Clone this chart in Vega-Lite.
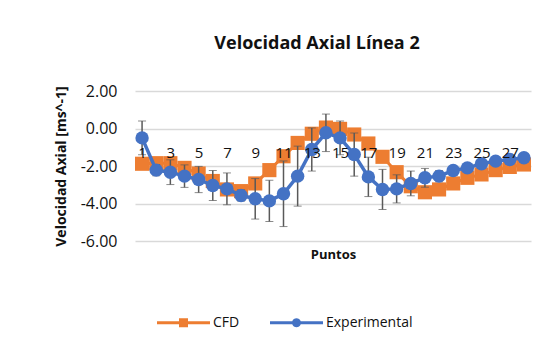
{
  "$schema": "https://vega.github.io/schema/vega-lite/v6.json",
  "width": 396,
  "height": 150,
  "autosize": {"type": "none"},
  "padding": {"left": 135, "top": 91, "right": 22, "bottom": 111},
  "background": "white",
  "config": {
    "font": "Open Sans",
    "locale": {"number": {"decimal": ".", "thousands": ",", "grouping": [3], "currency": ["$", ""], "minus": "-"}},
    "view": {"stroke": null}
  },
  "title": {
    "text": "Velocidad Axial Línea 2",
    "fontSize": 18,
    "fontWeight": "bold",
    "color": "#111111",
    "anchor": "middle",
    "dx": -16,
    "offset": 30
  },
  "data": {
    "values": [
      {"p": 1, "serie": "CFD", "v": -1.88},
      {"p": 2, "serie": "CFD", "v": -1.85},
      {"p": 3, "serie": "CFD", "v": -1.85},
      {"p": 4, "serie": "CFD", "v": -2.1},
      {"p": 5, "serie": "CFD", "v": -2.4},
      {"p": 6, "serie": "CFD", "v": -2.8},
      {"p": 7, "serie": "CFD", "v": -3.25},
      {"p": 8, "serie": "CFD", "v": -3.34},
      {"p": 9, "serie": "CFD", "v": -2.93},
      {"p": 10, "serie": "CFD", "v": -2.22},
      {"p": 11, "serie": "CFD", "v": -1.48},
      {"p": 12, "serie": "CFD", "v": -0.77},
      {"p": 13, "serie": "CFD", "v": -0.28},
      {"p": 14, "serie": "CFD", "v": 0.05},
      {"p": 15, "serie": "CFD", "v": -0.02},
      {"p": 16, "serie": "CFD", "v": -0.32},
      {"p": 17, "serie": "CFD", "v": -0.8},
      {"p": 18, "serie": "CFD", "v": -1.51},
      {"p": 19, "serie": "CFD", "v": -2.33},
      {"p": 20, "serie": "CFD", "v": -3.08},
      {"p": 21, "serie": "CFD", "v": -3.4},
      {"p": 22, "serie": "CFD", "v": -3.25},
      {"p": 23, "serie": "CFD", "v": -2.93},
      {"p": 24, "serie": "CFD", "v": -2.63},
      {"p": 25, "serie": "CFD", "v": -2.45},
      {"p": 26, "serie": "CFD", "v": -2.22},
      {"p": 27, "serie": "CFD", "v": -2.05},
      {"p": 28, "serie": "CFD", "v": -1.92},
      {"p": 1, "serie": "Experimental", "v": -0.5, "err": 0.9},
      {"p": 2, "serie": "Experimental", "v": -2.22, "err": 0.3},
      {"p": 3, "serie": "Experimental", "v": -2.33, "err": 0.66},
      {"p": 4, "serie": "Experimental", "v": -2.54, "err": 0.6},
      {"p": 5, "serie": "Experimental", "v": -2.72, "err": 0.7},
      {"p": 6, "serie": "Experimental", "v": -3.04, "err": 0.8},
      {"p": 7, "serie": "Experimental", "v": -3.22, "err": 0.85},
      {"p": 8, "serie": "Experimental", "v": -3.57, "err": 0.3},
      {"p": 9, "serie": "Experimental", "v": -3.75, "err": 1.08},
      {"p": 10, "serie": "Experimental", "v": -3.86, "err": 1.1},
      {"p": 11, "serie": "Experimental", "v": -3.48, "err": 1.75},
      {"p": 12, "serie": "Experimental", "v": -2.54, "err": 1.6},
      {"p": 13, "serie": "Experimental", "v": -1.12, "err": 1.15},
      {"p": 14, "serie": "Experimental", "v": -0.23, "err": 1.0},
      {"p": 15, "serie": "Experimental", "v": -0.5, "err": 0.9},
      {"p": 16, "serie": "Experimental", "v": -1.39, "err": 1.15},
      {"p": 17, "serie": "Experimental", "v": -2.58, "err": 1.05},
      {"p": 18, "serie": "Experimental", "v": -3.25, "err": 1.07},
      {"p": 19, "serie": "Experimental", "v": -3.22, "err": 0.75},
      {"p": 20, "serie": "Experimental", "v": -2.93, "err": 0.66},
      {"p": 21, "serie": "Experimental", "v": -2.63, "err": 0.5},
      {"p": 22, "serie": "Experimental", "v": -2.54, "err": 0.3},
      {"p": 23, "serie": "Experimental", "v": -2.24, "err": 0.2},
      {"p": 24, "serie": "Experimental", "v": -2.1, "err": 0.2},
      {"p": 25, "serie": "Experimental", "v": -1.88, "err": 0.15},
      {"p": 26, "serie": "Experimental", "v": -1.74, "err": 0.15},
      {"p": 27, "serie": "Experimental", "v": -1.65, "err": 0.1},
      {"p": 28, "serie": "Experimental", "v": -1.56, "err": 0.1}
    ]
  },
  "encoding": {
    "x": {
      "field": "p",
      "type": "ordinal",
      "scale": {"type": "point", "padding": 0.5},
      "axis": {
        "values": [1, 3, 5, 7, 9, 11, 13, 15, 17, 19, 21, 23, 25, 27],
        "labelAngle": 0,
        "offset": -112.5,
        "domain": false,
        "ticks": false,
        "grid": false,
        "labelPadding": 17,
        "labelFontSize": 15,
        "labelColor": "#111111",
        "title": "Puntos",
        "titleFontSize": 13,
        "titleFontWeight": "bold",
        "titleColor": "#111111",
        "titleY": 120,
        "zindex": 1
      }
    },
    "y": {
      "field": "v",
      "type": "quantitative",
      "scale": {"domain": [-6, 2], "nice": false, "zero": false},
      "axis": {
        "values": [-6, -4, -2, 0, 2],
        "format": ".2f",
        "domain": false,
        "ticks": false,
        "gridColor": "#d9d9d9",
        "gridWidth": 1.5,
        "labelPadding": 18,
        "labelFontSize": 16,
        "labelColor": "#111111",
        "title": "Velocidad Axial [ms^-1]",
        "titleFontSize": 14,
        "titleFontWeight": "bold",
        "titleColor": "#111111",
        "titlePadding": 12
      }
    }
  },
  "layer": [
    {
      "transform": [{"filter": "datum.serie === 'CFD'"}],
      "mark": {"type": "line", "color": "#ED7D31", "strokeWidth": 3}
    },
    {
      "transform": [{"filter": "datum.serie === 'CFD'"}],
      "mark": {"type": "point", "shape": "square", "filled": true, "opacity": 1, "color": "#ED7D31", "size": 200}
    },
    {
      "transform": [{"filter": "datum.serie === 'Experimental'"}],
      "mark": {"type": "errorbar", "ticks": {"size": 8, "color": "#595959", "strokeWidth": 1.5}, "rule": {"color": "#595959", "strokeWidth": 1.5}},
      "encoding": {"yError": {"field": "err"}}
    },
    {
      "transform": [{"filter": "datum.serie === 'Experimental'"}],
      "mark": {"type": "line", "color": "#4472C4", "strokeWidth": 3.5}
    },
    {
      "transform": [{"filter": "datum.serie === 'Experimental'"}],
      "mark": {"type": "point", "shape": "circle", "filled": true, "opacity": 1, "color": "#4472C4", "size": 180}
    },
    {
      "mark": {"type": "point", "filled": true, "opacity": 0},
      "encoding": {
        "color": {
          "field": "serie",
          "type": "nominal",
          "scale": {"domain": ["CFD", "Experimental"], "range": ["#ED7D31", "#4472C4"]},
          "legend": {
            "orient": "none",
            "legendX": 22,
            "legendY": 205,
            "direction": "horizontal",
            "title": null,
            "symbolSize": 2809,
            "symbolOpacity": 1,
            "symbolStrokeWidth": 0,
            "labelFontSize": 14,
            "labelColor": "#111111",
            "labelOffset": 3,
            "columnPadding": 30,
            "padding": 0,
            "encode": {"symbols": {"update": {"opacity": {"value": 1}, "fillOpacity": {"value": 1}}}}
          }
        },
        "shape": {
          "field": "serie",
          "type": "nominal",
          "scale": {
            "domain": ["CFD", "Experimental"],
            "range": [
              "M-1,-0.057H-0.17V-0.17H0.17V-0.057H1V0.057H0.17V0.17H-0.17V0.057H-1Z",
              "M-1,-0.057H-0.16A0.17,0.17 0 0 1 0.16,-0.057H1V0.057H0.16A0.17,0.17 0 0 1 -0.16,0.057H-1Z"
            ]
          }
        }
      }
    }
  ]
}
